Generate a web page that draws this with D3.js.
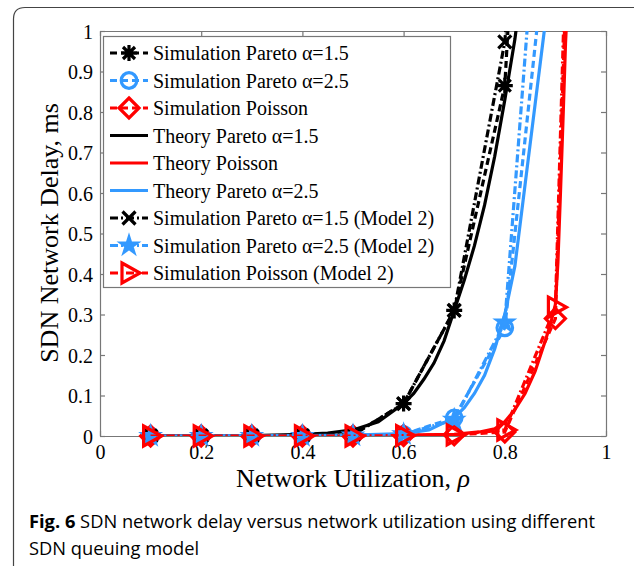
<!DOCTYPE html>
<html>
<head>
<meta charset="utf-8">
<script src="https://cdn.jsdelivr.net/npm/d3@7"></script>
<style>
  body { margin: 0; background: #fff; }
  svg { display: block; }
</style>
</head>
<body>
<svg id="chart" width="634" height="566"></svg>
<script>
// simulation points (rho = 0.1 ... 0.9, plus 0.95 where the curve is still on the chart)
var rho = [0.1, 0.2, 0.3, 0.4, 0.5, 0.6, 0.7, 0.8, 0.9, 0.95];
var simPareto15 = [0, 0, 0, 0.001, 0.003, 0.08, 0.31, 0.865, 3.1, null];
var simPareto25 = [0, 0, 0, 0, 0.001, 0.004, 0.045, 0.267, 1.43, null];
var simPoisson = [0, 0, 0, 0, 0, 0.001, 0.003, 0.01, 0.29, 2.26];
var simPareto15M2 = [0, 0, 0, 0.001, 0.003, 0.08, 0.31, 0.973, 2.6, null];
var simPareto25M2 = [0, 0, 0, 0, 0.001, 0.004, 0.04, 0.28, 1.92, null];
var simPoissonM2 = [0, 0, 0, 0, 0, 0.001, 0.003, 0.015, 0.318, 2.45];

// theory curves
var thPareto15X = [0.1, 0.2, 0.3, 0.4, 0.45, 0.5, 0.55, 0.6, 0.62, 0.64, 0.66, 0.68, 0.7, 0.72, 0.74, 0.76, 0.78, 0.8, 0.82, 0.83];
var thPareto15 = [0, 0.0005, 0.001, 0.004, 0.007, 0.015, 0.035, 0.08, 0.105, 0.14, 0.18, 0.235, 0.31, 0.385, 0.47, 0.57, 0.69, 0.83, 0.98, 1.08];
var thPareto25X = [0.1, 0.4, 0.5, 0.6, 0.65, 0.7, 0.72, 0.74, 0.76, 0.78, 0.8, 0.82, 0.84, 0.86, 0.88, 0.89];
var thPareto25 = [0, 0.001, 0.002, 0.006, 0.015, 0.045, 0.07, 0.105, 0.15, 0.215, 0.3, 0.42, 0.62, 0.82, 1.02, 1.12];
var thPoissonX = [0.1, 0.5, 0.6, 0.7, 0.75, 0.78, 0.8, 0.82, 0.84, 0.86, 0.88, 0.89, 0.9, 0.905, 0.91, 0.915, 0.92, 0.925];
var thPoisson = [0, 0.001, 0.002, 0.004, 0.01, 0.018, 0.035, 0.065, 0.105, 0.16, 0.235, 0.275, 0.325, 0.43, 0.6, 0.78, 0.97, 1.1];

var xTicks = [0, 0.2, 0.4, 0.6, 0.8, 1];
var xTickLabels = ['0', '0.2', '0.4', '0.6', '0.8', '1'];
var yTicks = [0, 0.1, 0.2, 0.3, 0.4, 0.5, 0.6, 0.7, 0.8, 0.9, 1];
var yTickLabels = ['0', '0.1', '0.2', '0.3', '0.4', '0.5', '0.6', '0.7', '0.8', '0.9', '1'];

var BLACK = '#000', BLUE = '#3399ff', RED = '#ff0000';
var DASH = '7,4', DASHDOT = '8,3,2,3';

var series = [
  { name: 'Simulation Pareto \u03b1=1.5', xs: rho, ys: simPareto15, color: BLACK, dash: DASH, marker: 'asterisk' },
  { name: 'Simulation Pareto \u03b1=2.5', xs: rho, ys: simPareto25, color: BLUE, dash: DASH, marker: 'circle' },
  { name: 'Simulation Poisson', xs: rho, ys: simPoisson, color: RED, dash: DASH, marker: 'diamond' },
  { name: 'Theory Pareto \u03b1=1.5', xs: thPareto15X, ys: thPareto15, color: BLACK, dash: null, marker: null },
  { name: 'Theory Poisson', xs: thPoissonX, ys: thPoisson, color: RED, dash: null, marker: null },
  { name: 'Theory Pareto \u03b1=2.5', xs: thPareto25X, ys: thPareto25, color: BLUE, dash: null, marker: null },
  { name: 'Simulation Pareto \u03b1=1.5 (Model 2)', xs: rho, ys: simPareto15M2, color: BLACK, dash: DASHDOT, marker: 'cross' },
  { name: 'Simulation Pareto \u03b1=2.5 (Model 2)', xs: rho, ys: simPareto25M2, color: BLUE, dash: DASHDOT, marker: 'star' },
  { name: 'Simulation Poisson (Model 2)', xs: rho, ys: simPoissonM2, color: RED, dash: DASHDOT, marker: 'triangle' }
];

var svg = d3.select('#chart');
var SERIF = '"Liberation Serif", "Times New Roman", serif';

// figure frame
svg.append('path')
  .attr('d', 'M13.5,570 V19 Q13.5,7.5 25,7.5 H640')
  .attr('fill', 'none')
  .attr('stroke', '#444')
  .attr('stroke-width', 1.2);

var x = d3.scaleLinear().domain([0, 1]).range([100, 606]);
var y = d3.scaleLinear().domain([0, 1]).range([436, 31]);

svg.append('clipPath').attr('id', 'plotclip')
  .append('rect')
  .attr('x', 100).attr('y', 31)
  .attr('width', 506).attr('height', 405);

// axes, ticks pointing inward
var axB = svg.append('g').attr('transform', 'translate(0,436)')
  .call(d3.axisBottom(x).tickValues(xTicks).tickSize(-5).tickSizeOuter(0).tickPadding(9)
    .tickFormat(function(d, i) { return xTickLabels[i]; }));
var axL = svg.append('g').attr('transform', 'translate(100,0)')
  .call(d3.axisLeft(y).tickValues(yTicks).tickSize(-5).tickSizeOuter(0).tickPadding(7)
    .tickFormat(function(d, i) { return yTickLabels[i]; }));
var axT = svg.append('g').attr('transform', 'translate(0,31)')
  .call(d3.axisTop(x).tickValues(xTicks).tickSize(-5).tickSizeOuter(0).tickFormat(''));
var axR = svg.append('g').attr('transform', 'translate(606,0)')
  .call(d3.axisRight(y).tickValues(yTicks).tickSize(-5).tickSizeOuter(0).tickFormat(''));

[axB, axL, axT, axR].forEach(function(a) {
  a.selectAll('path, line').attr('stroke', '#777').attr('stroke-width', 1.2);
  a.selectAll('text')
    .attr('fill', '#000')
    .style('font-family', SERIF)
    .style('font-size', '20px');
});
axL.selectAll('text').attr('dy', '0.35em');

function markerPath(type) {
  if (type == 'asterisk') return 'M-8,0H8M0,-8V8M-6,-6L6,6M-6,6L6,-6';
  if (type == 'cross') return 'M-6.5,-6.5L6.5,6.5M-6.5,6.5L6.5,-6.5';
  if (type == 'diamond') return 'M0,-10L10,0L0,10L-10,0Z';
  if (type == 'triangle') return 'M-7,-10L11,0L-7,10Z';
  if (type == 'star') return d3.symbol().type(d3.symbolStar).size(110)();
  if (type == 'circle') return d3.symbol().type(d3.symbolCircle).size(190)();
  return '';
}

function drawMarker(g, type, color) {
  g.append('path')
    .attr('d', markerPath(type))
    .attr('fill', type == 'star' ? color : 'none')
    .attr('stroke', color)
    .attr('stroke-width', type == 'star' ? 2 : 3.2)
    .attr('stroke-linejoin', 'miter');
}

var line = d3.line()
  .defined(function(d) { return d[1] != null; })
  .x(function(d) { return x(d[0]); })
  .y(function(d) { return y(d[1]); });

var plot = svg.append('g');
series.forEach(function(s) {
  var pts = s.xs.map(function(v, i) { return [v, s.ys[i]]; });
  plot.append('path')
    .attr('clip-path', 'url(#plotclip)')
    .attr('d', line(pts))
    .attr('fill', 'none')
    .attr('stroke', s.color)
    .attr('stroke-width', 3.2)
    .attr('stroke-dasharray', s.dash);
  if (s.marker) {
    pts.filter(function(d) { return d[1] != null && d[1] <= 1 && d[0] <= 0.9; })
      .forEach(function(d) {
        var m = plot.append('g').attr('transform', 'translate(' + x(d[0]) + ',' + y(d[1]) + ')');
        drawMarker(m, s.marker, s.color);
      });
  }
});

// legend
var leg = svg.append('g');
leg.append('rect')
  .attr('x', 103.5).attr('y', 36.5)
  .attr('width', 347).attr('height', 251)
  .attr('fill', '#fff')
  .attr('stroke', '#777')
  .attr('stroke-width', 1.2);
series.forEach(function(s, i) {
  var ry = 53 + i * 27.5;
  var row = leg.append('g').attr('transform', 'translate(0,' + ry + ')');
  row.append('line')
    .attr('x1', 110).attr('x2', 148)
    .attr('stroke', s.color)
    .attr('stroke-width', 3.2)
    .attr('stroke-dasharray', s.dash);
  if (s.marker) {
    drawMarker(row.append('g').attr('transform', 'translate(129,0)'), s.marker, s.color);
  }
  row.append('text')
    .attr('x', 153).attr('y', 0).attr('dy', '0.35em')
    .style('font-family', SERIF)
    .style('font-size', '20px')
    .text(s.name);
});

// axis titles
svg.append('text')
  .attr('x', 353).attr('y', 487)
  .attr('text-anchor', 'middle')
  .style('font-family', SERIF)
  .style('font-size', '26px')
  .html('Network Utilization, <tspan font-style="italic">\u03c1</tspan>');
svg.append('text')
  .attr('transform', 'translate(58,233) rotate(-90)')
  .attr('text-anchor', 'middle')
  .style('font-family', SERIF)
  .style('font-size', '26px')
  .text('SDN Network Delay, ms');

// caption
var cap = svg.append('g').style('font-family', '"Open Sans", "Noto Sans", sans-serif').style('font-size', '18.3px');
cap.append('text').attr('x', 29).attr('y', 528)
  .html('<tspan font-weight="bold">Fig. 6</tspan> SDN network delay versus network utilization using different');
cap.append('text').attr('x', 29).attr('y', 555).text('SDN queuing model');
</script>
</body>
</html>
